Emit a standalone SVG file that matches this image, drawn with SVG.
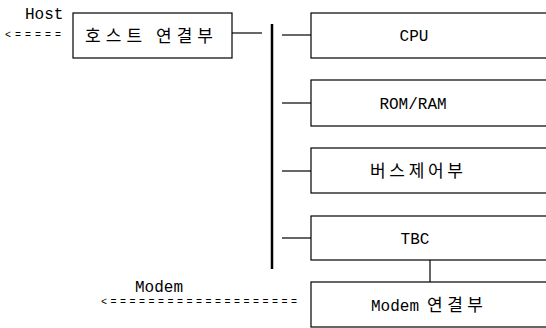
<svg xmlns="http://www.w3.org/2000/svg" width="546" height="328" viewBox="0 0 546 328">
<style>
.box{fill:#fff;stroke:#000;stroke-width:1.2}
.ln{stroke:#000;stroke-width:1.2;fill:none}
.t{font-family:"Liberation Mono","Noto Sans CJK KR",monospace;font-size:16px;fill:#000}
.k{font-family:"Noto Sans CJK KR","Liberation Mono",sans-serif;font-size:17px;fill:#000}
.a{font-family:"Liberation Mono",monospace;font-size:10px;fill:#000}
</style>
<rect width="546" height="328" fill="#fff"/>
<g id="connectors">
<line class="ln" x1="232" y1="33" x2="262" y2="33"/>
<line x1="272" y1="24" x2="272" y2="269" stroke="#000" stroke-width="2.5"/>
<line class="ln" x1="282" y1="35" x2="311" y2="35"/>
<line class="ln" x1="282" y1="103" x2="311" y2="103"/>
<line class="ln" x1="282" y1="171" x2="311" y2="171"/>
<line class="ln" x1="282" y1="238" x2="311" y2="238"/>
<line class="ln" x1="430" y1="260" x2="430" y2="282"/>
</g>
<g id="host-label"><text class="t" x="25" y="19">Host</text><text class="a" x="5" y="38" textLength="56" lengthAdjust="spacing">&lt;=====</text></g>
<g id="modem-label"><text class="t" x="135" y="292">Modem</text><text class="a" x="101" y="305" textLength="196" lengthAdjust="spacing">&lt;====================</text></g>
<g id="host"><rect class="box" x="73" y="13" width="159" height="45"/><text class="k" x="85" y="42" textLength="128" lengthAdjust="spacing">호스트 연결부</text></g>
<g id="cpu"><rect class="box" x="311" y="13" width="245" height="45"/><text class="t" x="414" y="41" text-anchor="middle">CPU</text></g>
<g id="romram"><rect class="box" x="311" y="80" width="245" height="46"/><text class="t" x="413" y="109" text-anchor="middle">ROM/RAM</text></g>
<g id="bus"><rect class="box" x="311" y="148" width="245" height="45"/><text class="k" x="370" y="177" textLength="93" lengthAdjust="spacing">버스제어부</text></g>
<g id="tbc"><rect class="box" x="311" y="216" width="245" height="44"/><text class="t" x="415" y="244" text-anchor="middle">TBC</text></g>
<g id="modem"><rect class="box" x="311" y="282" width="245" height="45"/><text class="t" x="371" y="311">Modem</text><text class="k" x="427" y="311" textLength="56" lengthAdjust="spacing">연결부</text></g>
</svg>
